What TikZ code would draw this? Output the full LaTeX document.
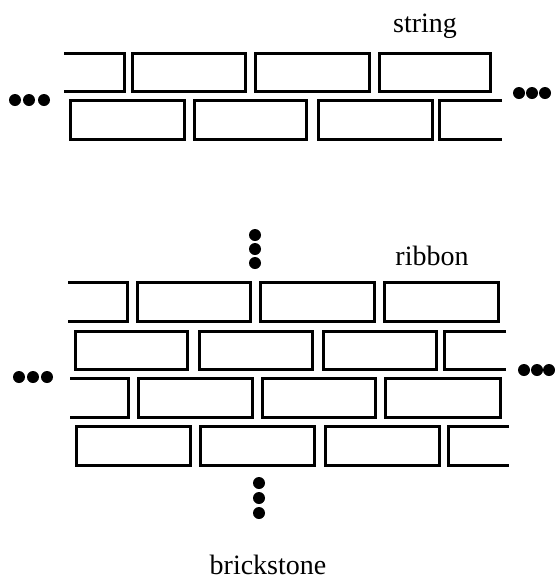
\documentclass[tikz,border=0pt]{standalone}
\usepackage{fontspec}
\setmainfont{Liberation Serif}
\usetikzlibrary{positioning}
\tikzset{
  brick/.style={line width=1.5pt, line join=miter},
  bdot/.style={circle, fill=black, draw=none, inner sep=0pt, minimum size=6pt},
  wlabel/.style={anchor=base, inner sep=0pt, font=\fontsize{14}{16}\selectfont},
}

\begin{document}
\begin{tikzpicture}[x=0.5pt, y=-0.5pt]
  \useasboundingbox (0,0) rectangle (554,579);
  % string
  \node[wlabel] (lstring) at (425,32) {string};
  \draw[brick] (64,53) -- (124,53) -- (124,91) -- (64,91);
  \draw[brick] (132,53) rectangle (245,91);
  \draw[brick] (255,53) rectangle (369,91);
  \draw[brick] (379,53) rectangle (490,91);
  \draw[brick] (70,100) rectangle (184,139);
  \draw[brick] (194,100) rectangle (306,139);
  \draw[brick] (318,100) rectangle (432,139);
  \draw[brick] (502,100) -- (439,100) -- (439,139) -- (502,139);
  \node[bdot] (sl1) at (15,100) {};
  \node[bdot] (sl2) at (29,100) {};
  \node[bdot] (sl3) at (44,100) {};
  \node[bdot] (sr1) at (519,93) {};
  \node[bdot] (sr2) at (532,93) {};
  \node[bdot] (sr3) at (545,93) {};
  % ribbon
  \node[wlabel] (lribbon) at (432,265) {ribbon};
  \node[bdot] (rt1) at (255,235) {};
  \node[bdot] (rt2) at (255,249) {};
  \node[bdot] (rt3) at (255,263) {};
  \draw[brick] (68,282) -- (127,282) -- (127,321) -- (68,321);
  \draw[brick] (137,282) rectangle (250,321);
  \draw[brick] (260,282) rectangle (374,321);
  \draw[brick] (384,282) rectangle (498,321);
  \draw[brick] (75,331) rectangle (187,369);
  \draw[brick] (199,331) rectangle (312,369);
  \draw[brick] (323,331) rectangle (436,369);
  \draw[brick] (506,331) -- (444,331) -- (444,369) -- (506,369);
  \draw[brick] (70,378) -- (128,378) -- (128,417) -- (70,417);
  \draw[brick] (138,378) rectangle (252,417);
  \draw[brick] (262,378) rectangle (375,417);
  \draw[brick] (385,378) rectangle (500,417);
  \draw[brick] (76,426) rectangle (190,465);
  \draw[brick] (200,426) rectangle (314,465);
  \draw[brick] (325,426) rectangle (439,465);
  \draw[brick] (509,426) -- (448,426) -- (448,465) -- (509,465);
  \node[bdot] (rl1) at (19,377) {};
  \node[bdot] (rl2) at (33,377) {};
  \node[bdot] (rl3) at (47,377) {};
  \node[bdot] (rr1) at (524,370) {};
  \node[bdot] (rr2) at (537,370) {};
  \node[bdot] (rr3) at (549,370) {};
  \node[bdot] (rb1) at (259,483) {};
  \node[bdot] (rb2) at (259,498) {};
  \node[bdot] (rb3) at (259,513) {};
  \node[wlabel] (lbrick) at (268,574) {brickstone};
\end{tikzpicture}
\end{document}
